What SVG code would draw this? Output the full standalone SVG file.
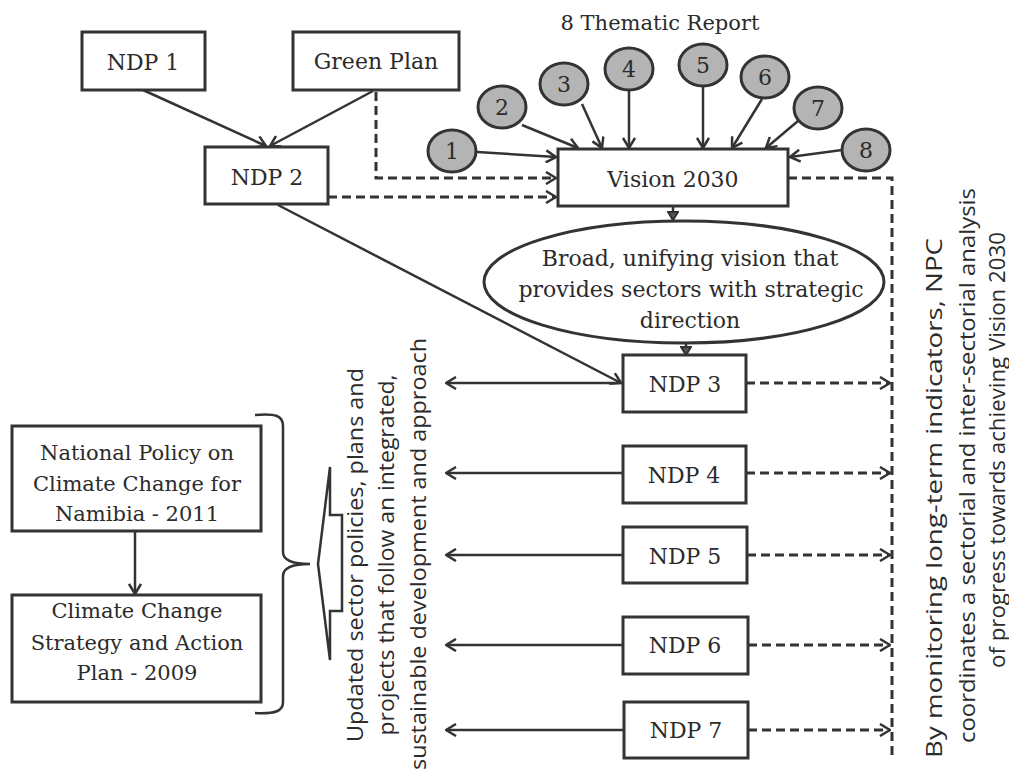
<svg xmlns="http://www.w3.org/2000/svg" width="1009" height="771" viewBox="0 0 1009 771">
<style>
.box{fill:#fff;stroke:#333;stroke-width:3}
.circ{fill:#b4b4b4;stroke:#333;stroke-width:3}
.ser{font-family:"DejaVu Serif","Liberation Serif",serif;font-size:21px;fill:#2b2b2b;text-anchor:middle}
.big{font-size:22px}
.san{font-family:"Open Sans","Liberation Sans",sans-serif;font-size:22px;fill:#2b2b2b}
.ln{fill:none;stroke:#333;stroke-width:2.5}
.ds{fill:none;stroke:#333;stroke-width:3;stroke-dasharray:9 5}
</style>
<defs>
<marker id="ar" viewBox="0 0 12 14" refX="11" refY="7" markerWidth="12" markerHeight="14" orient="auto" markerUnits="userSpaceOnUse">
<path d="M1,1 L11,7 L1,13" fill="none" stroke="#333" stroke-width="2.5"/>
</marker>
<marker id="sm" viewBox="0 0 10 12" refX="9" refY="6" markerWidth="10" markerHeight="12" orient="auto" markerUnits="userSpaceOnUse">
<path d="M1,1 L9,6 L1,11 Z" fill="#555" stroke="#333" stroke-width="2"/>
</marker>
</defs>
<rect width="1009" height="771" fill="#fff"/>

<text class="ser" x="660" y="30" font-size="21.5">8 Thematic Report</text>

<g id="connectors">
<line class="ln" x1="143" y1="90" x2="266" y2="146" marker-end="url(#ar)"/>
<line class="ln" x1="373" y1="91" x2="270" y2="146" marker-end="url(#ar)"/>
<polyline class="ds" points="376,92 376,178 556,178" marker-end="url(#ar)"/>
<line class="ds" x1="328" y1="197" x2="556" y2="197" marker-end="url(#ar)"/>
<line class="ln" x1="278" y1="205" x2="621" y2="383" marker-end="url(#ar)"/>
<line class="ln" x1="477" y1="152" x2="556" y2="157" marker-end="url(#ar)"/>
<line class="ln" x1="522" y1="125" x2="578" y2="148" marker-end="url(#ar)"/>
<line class="ln" x1="582" y1="104" x2="602" y2="148" marker-end="url(#ar)"/>
<line class="ln" x1="629" y1="91" x2="629" y2="148" marker-end="url(#ar)"/>
<line class="ln" x1="703" y1="87" x2="703" y2="148" marker-end="url(#ar)"/>
<line class="ln" x1="762" y1="99" x2="732" y2="148" marker-end="url(#ar)"/>
<line class="ln" x1="798" y1="121" x2="766" y2="148" marker-end="url(#ar)"/>
<line class="ln" x1="842" y1="150" x2="790" y2="157" marker-end="url(#ar)"/>
<line class="ln" x1="673" y1="207" x2="673" y2="220" marker-end="url(#sm)"/>
<line class="ln" x1="686" y1="343" x2="686" y2="355" marker-end="url(#sm)"/>
<polyline class="ds" points="788,178 892,178 892,758"/>
<line class="ln" x1="623" y1="383" x2="446" y2="383" marker-end="url(#ar)"/>
<line class="ln" x1="623" y1="473" x2="446" y2="473" marker-end="url(#ar)"/>
<line class="ln" x1="623" y1="555" x2="446" y2="555" marker-end="url(#ar)"/>
<line class="ln" x1="623" y1="645" x2="446" y2="645" marker-end="url(#ar)"/>
<line class="ln" x1="624" y1="730" x2="446" y2="730" marker-end="url(#ar)"/>
<line class="ds" x1="746" y1="383" x2="890" y2="383" marker-end="url(#ar)"/>
<line class="ds" x1="746" y1="473" x2="890" y2="473" marker-end="url(#ar)"/>
<line class="ds" x1="747" y1="555" x2="890" y2="555" marker-end="url(#ar)"/>
<line class="ds" x1="748" y1="645" x2="890" y2="645" marker-end="url(#ar)"/>
<line class="ds" x1="748" y1="730" x2="890" y2="730" marker-end="url(#ar)"/>
<line class="ln" x1="135" y1="531" x2="135" y2="594" marker-end="url(#ar)"/>
</g>

<g id="ndp1"><rect class="box" x="82" y="32" width="123" height="58"/><text class="ser big" x="143" y="70">NDP 1</text></g>
<g id="greenplan"><rect class="box" x="293" y="32" width="166" height="58"/><text class="ser big" x="376" y="69">Green Plan</text></g>
<g id="ndp2"><rect class="box" x="205" y="147" width="123" height="57"/><text class="ser big" x="267" y="185">NDP 2</text></g>
<g id="vision2030"><rect class="box" x="558" y="149" width="230" height="57"/><text class="ser big" x="673" y="187">Vision 2030</text></g>

<g id="t1"><ellipse class="circ" cx="452" cy="151" rx="24" ry="21"/><text class="ser big" x="452" y="159">1</text></g>
<g id="t2"><ellipse class="circ" cx="502" cy="107" rx="24" ry="21"/><text class="ser big" x="502" y="115">2</text></g>
<g id="t3"><ellipse class="circ" cx="564" cy="84" rx="24" ry="21"/><text class="ser big" x="564" y="92">3</text></g>
<g id="t4"><ellipse class="circ" cx="629" cy="69" rx="24" ry="21"/><text class="ser big" x="629" y="77">4</text></g>
<g id="t5"><ellipse class="circ" cx="703" cy="65" rx="24" ry="21"/><text class="ser big" x="703" y="73">5</text></g>
<g id="t6"><ellipse class="circ" cx="765" cy="77" rx="24" ry="21"/><text class="ser big" x="765" y="85">6</text></g>
<g id="t7"><ellipse class="circ" cx="818" cy="108" rx="24" ry="21"/><text class="ser big" x="818" y="116">7</text></g>
<g id="t8"><ellipse class="circ" cx="866" cy="150" rx="24" ry="21"/><text class="ser big" x="866" y="158">8</text></g>

<g id="broadvision">
<ellipse class="box" cx="684" cy="282" rx="200" ry="61"/>
<text class="ser big" x="690" y="266">Broad, unifying vision that</text>
<text class="ser big" x="691" y="297">provides sectors with strategic</text>
<text class="ser big" x="690" y="328">direction</text>
</g>

<g id="ndp3"><rect class="box" x="623" y="355" width="123" height="57"/><text class="ser big" x="685" y="392">NDP 3</text></g>
<g id="ndp4"><rect class="box" x="623" y="446" width="123" height="57"/><text class="ser big" x="684" y="483">NDP 4</text></g>
<g id="ndp5"><rect class="box" x="623" y="527" width="124" height="56"/><text class="ser big" x="685" y="564">NDP 5</text></g>
<g id="ndp6"><rect class="box" x="623" y="617" width="125" height="57"/><text class="ser big" x="685" y="653">NDP 6</text></g>
<g id="ndp7"><rect class="box" x="624" y="702" width="124" height="56"/><text class="ser big" x="686" y="738">NDP 7</text></g>

<g id="policy2011"><rect class="box" x="12" y="426" width="249" height="105"/>
<text class="ser" x="137" y="460">National Policy on</text>
<text class="ser" x="137" y="491">Climate Change for</text>
<text class="ser" x="137" y="521">Namibia - 2011</text></g>
<g id="strategy2009"><rect class="box" x="12" y="595" width="249" height="107"/>
<text class="ser" x="137" y="618">Climate Change</text>
<text class="ser" x="137" y="650">Strategy and Action</text>
<text class="ser" x="137" y="680">Plan - 2009</text></g>

<g id="brace"><path class="ln" d="M255,415 C276,413 283,416 283,426 L283,552 C283,560 292,564 310,564 C292,564 283,568 283,576 L283,702 C283,711 276,714 255,713"/></g>
<g id="blockarrow"><polygon points="318,564 330,467 330,515 342,515 342,611 330,611 330,660" fill="#fff" stroke="#333" stroke-width="2.5" stroke-linejoin="miter"/></g>

<g id="sectortext" class="san">
<text transform="translate(363,555) rotate(-90)" text-anchor="middle" textLength="374" lengthAdjust="spacingAndGlyphs">Updated sector policies, plans and</text>
<text transform="translate(394,555) rotate(-90)" text-anchor="middle" textLength="361" lengthAdjust="spacingAndGlyphs">projects that follow an integrated,</text>
<text transform="translate(426,554) rotate(-90)" text-anchor="middle" textLength="432" lengthAdjust="spacingAndGlyphs">sustainable development and approach</text>
</g>
<g id="npctext" class="san" font-size="24">
<text transform="translate(942,758) rotate(-90)" textLength="520" lengthAdjust="spacingAndGlyphs">By monitoring long-term indicators, NPC</text>
<text transform="translate(975,743) rotate(-90)" textLength="555" lengthAdjust="spacingAndGlyphs">coordinates a sectorial and inter-sectorial analysis</text>
<text transform="translate(1005,668) rotate(-90)" textLength="436" lengthAdjust="spacingAndGlyphs">of progress towards achieving Vision 2030</text>
</g>
</svg>
